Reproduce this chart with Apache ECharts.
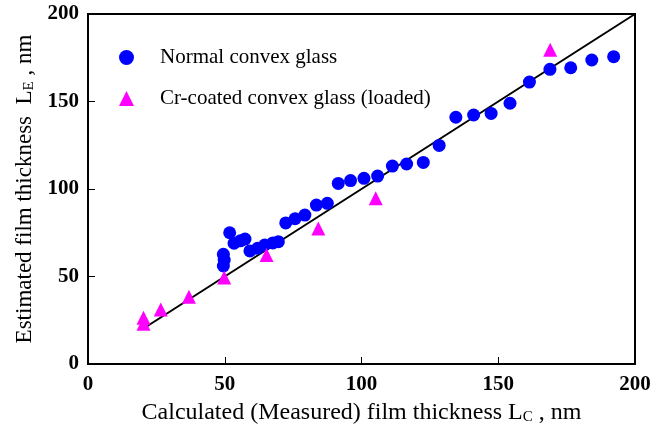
<!DOCTYPE html>
<html>
<head>
<meta charset="utf-8">
<script src="https://cdn.jsdelivr.net/npm/echarts@6/dist/echarts.min.js"></script>
<style>
  html, body { margin: 0; padding: 0; background: #fff; }
  #chart { width: 666px; height: 430px; }
</style>
</head>
<body>
<div id="chart"></div>
<script>
// 数据
var normalGlass = [
  [49.5, 56], [49.8, 59.4], [49.5, 62.7], [51.8, 75], [53.4, 69],
  [55.7, 70.4], [57.4, 71.4], [59.2, 64.6], [62, 66.1], [64.6, 68],
  [67.6, 69.2], [69.6, 69.9], [72.3, 80.6], [75.7, 83], [79.3, 85.1],
  [83.5, 90.8], [87.5, 91.8], [91.5, 103.2], [96, 104.8], [100.9, 106.1],
  [105.9, 107.4], [111.3, 113.1], [116.5, 114.3], [122.6, 115.2], [128.4, 124.9],
  [134.5, 141], [141, 142.3], [147.4, 143.2], [154.3, 149], [161.4, 161.1],
  [168.9, 168.4], [176.5, 169.3], [184.2, 173.7], [192.2, 175.6]
]
var crCoated = [
  [20.3, 23], [20.3, 26.5], [26.6, 31.2], [36.9, 38.5], [49.8, 49.5],
  [65.3, 62.3], [84.2, 77.5], [105.2, 94.7], [169, 179.6]
]
var fitLine = [[20, 20], [200, 200]]
var axisMin = 0
var axisMax = 200
var axisStep = 50

var serif = '"Liberation Serif", "DejaVu Serif", serif'

;(function () {
  var myChart = echarts.init(document.getElementById('chart'))
  var axisCommon = {
    type: 'value',
    min: axisMin,
    max: axisMax,
    interval: axisStep,
    nameLocation: 'middle',
    axisLine: { show: true, lineStyle: { color: '#000', width: 2 } },
    axisTick: { show: true, inside: true, length: 7, lineStyle: { color: '#000', width: 1 } },
    splitLine: { show: false },
    axisLabel: {
      color: '#000',
      fontFamily: serif,
      fontWeight: 'bold',
      fontSize: 21
    }
  }
  function nameStyle(size) {
    return {
      color: '#000',
      fontFamily: serif,
      fontSize: size,
      rich: {
        sub: { fontFamily: serif, fontSize: 15, verticalAlign: 'bottom', padding: [9, 0, 0, 0], color: '#000' }
      }
    }
  }
  var option = {
    animation: false,
    grid: {
      left: 88, right: 31, top: 14, bottom: 66,
      show: true,
      borderColor: '#000',
      borderWidth: 2
    },
    legend: {
      orient: 'vertical',
      left: 114,
      top: 42,
      itemWidth: 15,
      itemHeight: 15,
      itemGap: 20,
      textStyle: { color: '#000', fontFamily: serif, fontSize: 21, padding: [0, 0, 0, 21] },
      data: [
        { name: 'Normal convex glass', icon: 'circle' },
        { name: 'Cr-coated convex glass (loaded)', icon: 'triangle' }
      ]
    },
    xAxis: Object.assign({}, axisCommon, {
      name: 'Calculated (Measured) film thickness L{sub|C} , nm',
      nameGap: 37,
      nameTextStyle: nameStyle(24),
      axisLabel: Object.assign({}, axisCommon.axisLabel, { margin: 10 })
    }),
    yAxis: Object.assign({}, axisCommon, {
      name: 'Estimated film thickness  L{sub|E} , nm',
      nameGap: 50,
      nameTextStyle: nameStyle(23),
      axisLabel: Object.assign({}, axisCommon.axisLabel, { margin: 9 })
    }),
    series: [
      {
        name: 'fit',
        type: 'line',
        data: fitLine,
        symbol: 'none',
        lineStyle: { color: '#000', width: 2 },
        z: 1
      },
      {
        name: 'Normal convex glass',
        type: 'scatter',
        data: normalGlass,
        symbol: 'circle',
        symbolSize: 13,
        itemStyle: { color: '#0000ff', opacity: 1 },
        z: 3
      },
      {
        name: 'Cr-coated convex glass (loaded)',
        type: 'scatter',
        data: crCoated,
        symbol: 'triangle',
        symbolSize: 14,
        itemStyle: { color: '#ff00ff', opacity: 1 },
        z: 4
      }
    ]
  }
  myChart.setOption(option)
})();
</script>
</body>
</html>
